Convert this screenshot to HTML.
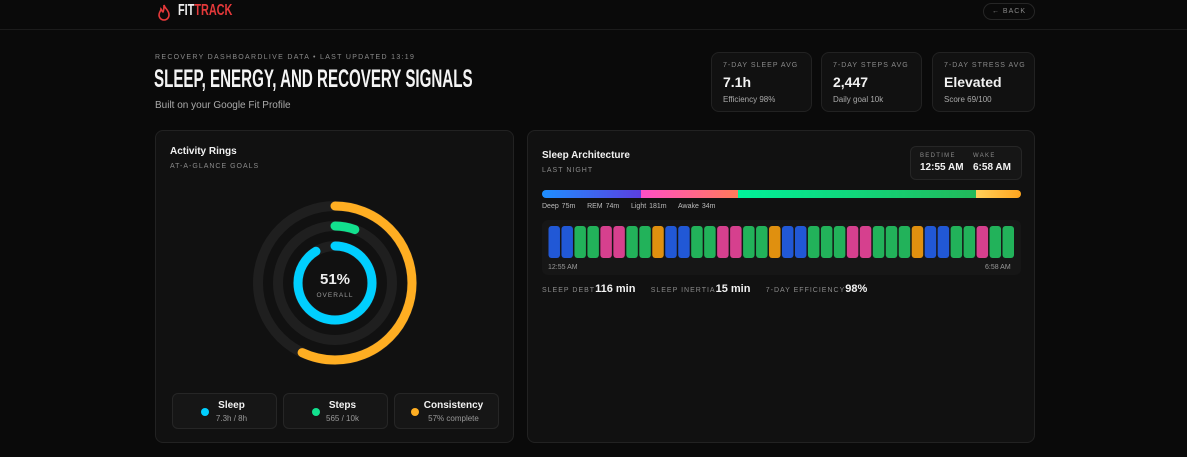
<!DOCTYPE html>
<html><head><meta charset="utf-8"><style>
*{box-sizing:border-box;margin:0;padding:0}
body{width:1187px;height:457px;background:#0a0a0a;font-family:"Liberation Sans",sans-serif;color:#f2f2f2;position:relative;overflow:hidden}
.abs{position:absolute}
.cond{font-family:"Liberation Sans",sans-serif;font-weight:bold}
.card{position:absolute;background:#111;border:1px solid #222;border-radius:8px}
.cap{font-size:7px;letter-spacing:1.3px;color:#8a8a8a;text-transform:uppercase}
.stat .cap{position:absolute;left:11px;top:9px;letter-spacing:1px}
.stat .v{position:absolute;left:11px;top:21px;font-size:14px;font-weight:bold}
.stat .s{position:absolute;left:11px;top:42px;font-size:8px;color:#aaa}
.leg{position:absolute;top:262px;width:105px;height:36px;background:#161616;border:1px solid #262626;border-radius:6px}
.leg .dot{position:absolute;left:28px;top:14px;width:8px;height:8px;border-radius:50%}
.leg .t{position:absolute;left:0;right:0;padding-left:14px;text-align:center;top:6px;font-size:10px;font-weight:bold}
.leg .u{position:absolute;left:0;right:0;padding-left:14px;text-align:center;top:20px;font-size:8px;color:#999}
</style></head><body>
<div class="abs" style="left:0;top:0;width:1187px;height:30px;border-bottom:1px solid #1c1c1c"></div>
<svg class="abs" style="left:157px;top:4px" width="14" height="17" viewBox="0 0 14 17"><path d="M7 1C8 5 12 6 12 11a5 5 0 0 1-10 0c0-3 2-4 2-6 1 1 1 3 2 3 1-2 1-4 1-7z" fill="none" stroke="#e5393a" stroke-width="1.6"/></svg>
<div class="abs cond" style="left:178px;top:2px;font-size:16px;transform:scaleX(0.68);transform-origin:left"><span style="color:#eee">FIT</span><span style="color:#e5393a">TRACK</span></div>
<div class="abs" style="left:983px;top:3px;width:52px;height:17px;border:1px solid #262626;border-radius:9px;font-size:7px;color:#888;letter-spacing:1px;text-align:center;line-height:15px">← BACK</div>

<div class="abs cap" style="left:155px;top:54px;font-size:7px">Recovery DashboardLive Data • Last updated 13:19</div>
<div class="abs cond" style="left:154px;top:65px;font-size:25px;color:#f4f4f4;transform:scaleX(0.605);transform-origin:left;white-space:nowrap">SLEEP, ENERGY, AND RECOVERY SIGNALS</div>
<div class="abs" style="left:155px;top:100px;font-size:10px;color:#aaa">Built on your Google Fit Profile</div>

<div class="card stat" style="left:711px;top:52px;width:101px;height:60px"><div class="cap">7-Day Sleep Avg</div><div class="v">7.1h</div><div class="s">Efficiency 98%</div></div>
<div class="card stat" style="left:821px;top:52px;width:101px;height:60px"><div class="cap">7-Day Steps Avg</div><div class="v">2,447</div><div class="s">Daily goal 10k</div></div>
<div class="card stat" style="left:932px;top:52px;width:103px;height:60px"><div class="cap">7-Day Stress Avg</div><div class="v">Elevated</div><div class="s">Score 69/100</div></div>

<div class="card" style="left:155px;top:130px;width:359px;height:313px">
 <div class="abs" style="left:14px;top:15px;font-size:10px;font-weight:bold">Activity Rings</div>
 <div class="abs cap" style="left:14px;top:32px;letter-spacing:1px">At-a-glance goals</div>
 <svg class="abs" id="rings" style="left:0;top:0" width="359" height="260"></svg>
 <div class="leg" style="left:16px"><div class="dot" style="background:#00cfff"></div><div class="t">Sleep</div><div class="u">7.3h / 8h</div></div>
 <div class="leg" style="left:127px"><div class="dot" style="background:#12e08e"></div><div class="t">Steps</div><div class="u">565 / 10k</div></div>
 <div class="leg" style="left:238px"><div class="dot" style="background:#ffae22;left:16px"></div><div class="t">Consistency</div><div class="u">57% complete</div></div>
</div>

<div class="card" style="left:527px;top:130px;width:508px;height:313px">
 <div class="abs" style="left:14px;top:19px;font-size:10px;font-weight:bold">Sleep Architecture</div>
 <div class="abs cap" style="left:14px;top:36px;letter-spacing:1px">Last night</div>
 <div class="abs" style="left:382px;top:15px;width:112px;height:34px;background:#161616;border:1px solid #262626;border-radius:6px">
  <div class="abs cap" style="left:9px;top:6px;font-size:6px">Bedtime</div><div class="abs" style="left:9px;top:15px;font-size:10px;font-weight:bold">12:55 AM</div>
  <div class="abs cap" style="left:62px;top:6px;font-size:6px">Wake</div><div class="abs" style="left:62px;top:15px;font-size:10px;font-weight:bold">6:58 AM</div>
 </div>
 <div class="abs" id="stagebar" style="left:14px;top:59px;width:479px;height:8px;border-radius:4px;overflow:hidden;display:flex"></div>
 <div class="abs" style="left:14px;top:72px;font-size:7px;color:#bbb;word-spacing:1px">Deep 75m &nbsp;&nbsp; REM 74m &nbsp;&nbsp; Light 181m &nbsp;&nbsp; Awake 34m</div>
 <div class="abs" style="left:14px;top:89px;width:479px;height:55px;background:#161616;border-radius:6px"></div>
 <svg class="abs" id="hyp" style="left:14px;top:89px" width="479" height="55"></svg>
 <div class="abs" style="left:20px;top:133px;font-size:7px;color:#999">12:55 AM</div>
 <div class="abs" style="left:457px;top:133px;font-size:7px;color:#999">6:58 AM</div>
 <div class="abs" style="left:14px;top:152px;font-size:11px;font-weight:bold;white-space:nowrap">
  <span class="cap" style="font-weight:normal;font-size:7px;letter-spacing:1px">Sleep debt</span>116 min &nbsp;&nbsp;&nbsp;
  <span class="cap" style="font-weight:normal;font-size:7px;letter-spacing:1px">Sleep inertia</span>15 min &nbsp;&nbsp;&nbsp;
  <span class="cap" style="font-weight:normal;font-size:7px;letter-spacing:1px">7-day efficiency</span>98%
 </div>
</div>

<script>
const ringNames=['sleep','steps','consistency'];
const ringValues=[0.9125,0.0565,0.57];
const ringColors=['#00cfff','#12e08e','#ffae22'];
const ringRadii=[37,57,77];
const stageNames=['deep','rem','light','awake'];
const stageMinutes=[75,74,181,34];
const stageGrad=['linear-gradient(90deg,#1e8fff,#5b3fe0)','linear-gradient(90deg,#ff4fc7,#ff7a5a)','linear-gradient(90deg,#00f29a,#22b85a)','linear-gradient(90deg,#ffcf5a,#ffa51e)'];
const hypStages=['deep','deep','light','light','rem','rem','light','light','awake','deep','deep','light','light','rem','rem','light','light','awake','deep','deep','light','light','light','rem','rem','light','light','light','awake','deep','deep','light','light','rem','light','light'];
const hypColors={deep:'#2158d6',rem:'#d6408e',light:'#22b25a',awake:'#e0900f'};
const NS='http://www.w3.org/2000/svg';
const rs=document.getElementById('rings');const cx=179,cy=152;
ringValues.forEach((v,i)=>{
 const r=ringRadii[i];
 const bg=document.createElementNS(NS,'circle');
 
 
 bg.setAttribute('cx',cx);bg.setAttribute('cy',cy);bg.setAttribute('r',r);bg.setAttribute('fill','none');bg.setAttribute('stroke','#1f1f1f');bg.setAttribute('stroke-width',10);rs.appendChild(bg);
 const a=document.createElementNS(NS,'circle');
 
 
 const c=2*Math.PI*r;
 a.setAttribute('cx',cx);a.setAttribute('cy',cy);a.setAttribute('r',r);a.setAttribute('fill','none');a.setAttribute('stroke',ringColors[i]);a.setAttribute('stroke-width',9);a.setAttribute('stroke-linecap','round');
 a.setAttribute('stroke-dasharray',(c*v)+' '+c);a.setAttribute('transform','rotate(-90 '+cx+' '+cy+')');rs.appendChild(a);
});
const tt=document.createElementNS(NS,'text');


tt.setAttribute('x',cx);tt.setAttribute('y',cy+1);tt.setAttribute('text-anchor','middle');tt.setAttribute('font-size','15');tt.setAttribute('font-weight','bold');tt.setAttribute('fill','#eee');tt.textContent='51%';rs.appendChild(tt);
const t2=document.createElementNS(NS,'text');


t2.setAttribute('x',cx);t2.setAttribute('y',cy+14);t2.setAttribute('text-anchor','middle');t2.setAttribute('font-size','6.5');t2.setAttribute('letter-spacing','1');t2.setAttribute('fill','#999');t2.textContent='OVERALL';rs.appendChild(t2);
const sb=document.getElementById('stagebar');const tot=stageMinutes.reduce((a,b)=>a+b,0);
stageMinutes.forEach((m,i)=>{const d=document.createElement('div');
 
 
 d.style.width=(m/tot*100)+'%';d.style.background=stageGrad[i];sb.appendChild(d);});
const hs=document.getElementById('hyp');const x0=6,w=467,bw=w/hypStages.length;
hypStages.forEach((s,i)=>{const r=document.createElementNS(NS,'rect');
 
 
 r.setAttribute('x',x0+i*bw+0.5);r.setAttribute('y',6);r.setAttribute('width',bw-1.5);r.setAttribute('height',32);r.setAttribute('rx',3);r.setAttribute('fill',hypColors[s]);hs.appendChild(r);});
</script>
</body></html>
